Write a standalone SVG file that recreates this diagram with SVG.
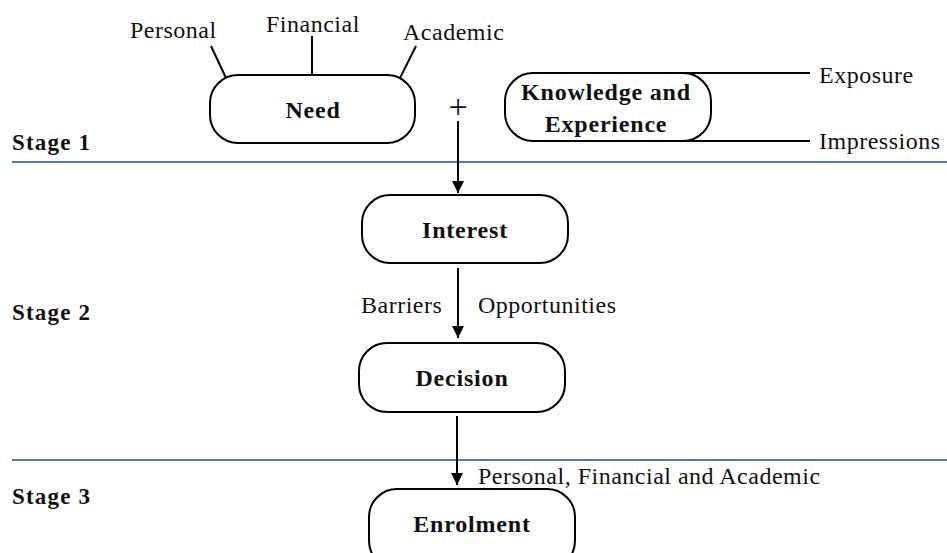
<svg xmlns="http://www.w3.org/2000/svg" width="947" height="553" viewBox="0 0 947 553">
<style>
.box{fill:#fff;stroke:#000;stroke-width:2}
.ln{stroke:#000;stroke-width:2;fill:none}
.stage{stroke:#4a7ebb;stroke-width:2}
.t{font-family:"Liberation Serif",serif;font-size:24px;fill:#111;letter-spacing:0.5px}
.b{font-family:"Liberation Serif",serif;font-size:24px;font-weight:bold;fill:#111;text-anchor:middle;letter-spacing:0.8px}
.s{font-family:"Liberation Serif",serif;font-size:23px;font-weight:bold;fill:#111;letter-spacing:1.2px}
</style>
<defs>
<marker id="ah" viewBox="0 0 12 15" refX="12" refY="6" markerWidth="12" markerHeight="15" markerUnits="userSpaceOnUse" orient="auto">
<path d="M0,0 L15,6 L0,12 Z" fill="#000" transform="scale(0.8,1)"/>
</marker>
</defs>
<g id="stages">
<line class="stage" x1="12" y1="162" x2="947" y2="162"/>
<line class="stage" x1="12" y1="460" x2="947" y2="460"/>
<text class="s" x="12" y="150">Stage 1</text>
<text class="s" x="12" y="320">Stage 2</text>
<text class="s" x="12" y="504">Stage 3</text>
</g>
<g id="connectors">
<line class="ln" x1="211" y1="46" x2="226" y2="78"/>
<line class="ln" x1="312" y1="36" x2="312" y2="75"/>
<line class="ln" x1="416" y1="46" x2="400" y2="78"/>
<line class="ln" x1="630" y1="73" x2="810" y2="73"/>
<line class="ln" x1="630" y1="141" x2="810" y2="141"/>
<line class="ln" x1="458" y1="121" x2="458" y2="193" marker-end="url(#ah)"/>
<line class="ln" x1="458" y1="268" x2="458" y2="338" marker-end="url(#ah)"/>
<line class="ln" x1="457" y1="416" x2="457" y2="485" marker-end="url(#ah)"/>
<text x="458" y="118" text-anchor="middle" style="font-family:'Liberation Serif',serif;font-size:34px;fill:#111">+</text>
<text class="t" x="361" y="313">Barriers</text>
<text class="t" x="478" y="313">Opportunities</text>
<text class="t" x="478" y="484">Personal, Financial and Academic</text>
</g>
<g id="need">
<rect class="box" x="210" y="75" width="205" height="68" rx="28"/>
<text class="b" x="313" y="118">Need</text>
<text class="t" x="130" y="38">Personal</text>
<text class="t" x="266" y="32">Financial</text>
<text class="t" x="403" y="40">Academic</text>
</g>
<g id="knowledge">
<rect class="box" x="505" y="73" width="206" height="68" rx="28"/>
<text class="b" x="606" y="100">Knowledge and</text>
<text class="b" x="606" y="132">Experience</text>
<text class="t" x="819" y="83">Exposure</text>
<text class="t" x="819" y="149">Impressions</text>
</g>
<g id="interest">
<rect class="box" x="362" y="195" width="206" height="68" rx="28"/>
<text class="b" x="465" y="238">Interest</text>
</g>
<g id="decision">
<rect class="box" x="359" y="343" width="206" height="69" rx="28"/>
<text class="b" x="462" y="386">Decision</text>
</g>
<g id="enrolment">
<rect class="box" x="369" y="489" width="206" height="80" rx="28"/>
<text class="b" x="472" y="532">Enrolment</text>
</g>
</svg>
